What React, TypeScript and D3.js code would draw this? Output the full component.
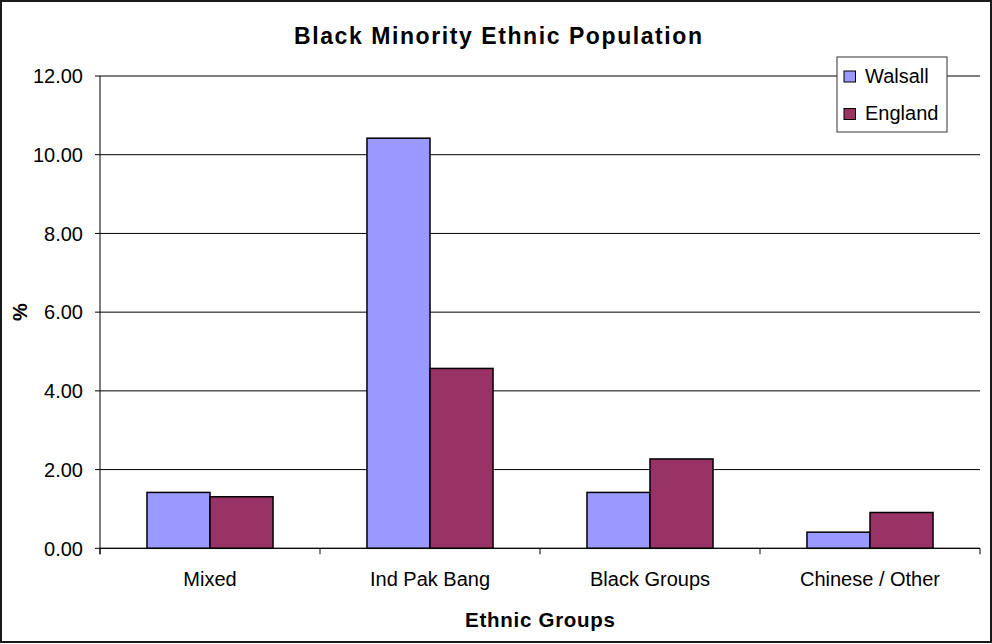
import React from "react";
import * as d3 from "d3";

const categories = ["Mixed", "Ind Pak Bang", "Black Groups", "Chinese / Other"];
const seriesNames = ["Walsall", "England"];
const walsall = [1.42, 10.42, 1.42, 0.41];
const england = [1.31, 4.57, 2.27, 0.91];
const yTicks = [0, 2, 4, 6, 8, 10, 12];
const colors = ["#9999FF", "#993366"];

const W = 992;
const H = 644;
const plot = { left: 100, right: 980, top: 76, bottom: 548.3 };
const FONT = "Arial, 'Liberation Sans', Helvetica, sans-serif";

export default function App() {
  const x0 = d3.scaleBand<string>().domain(categories).range([plot.left, plot.right]).padding(0);
  const step = x0.step();
  const groupW = step * 0.573;
  const x1 = d3.scaleBand<string>().domain(seriesNames).range([0, groupW]).padding(0);
  const y = d3.scaleLinear().domain([0, 12]).range([plot.bottom, plot.top]);
  const series = [walsall, england];

  const boundaries = d3.range(categories.length + 1).map((i) => plot.left + i * step);

  return (
    <svg width={W} height={H} style={{ position: "absolute", left: 0, top: 0, background: "#fff" }} fontFamily={FONT}>
      <rect x={0} y={0} width={W} height={H} fill="#fff" />
      <rect x={1} y={1} width={990} height={641} fill="#fff" stroke="#1a1a1a" strokeWidth={2} />

      {/* title */}
      <text x={498} y={43.5} textAnchor="middle" fontSize={23} fontWeight="bold" textLength={408} lengthAdjust="spacing">
        Black Minority Ethnic Population
      </text>

      {/* gridlines */}
      {yTicks.map((t) => (
        <line key={"g" + t} x1={plot.left} x2={plot.right} y1={y(t)} y2={y(t)} stroke="#000" strokeWidth={1} />
      ))}

      {/* y ticks and labels */}
      {yTicks.map((t) => (
        <g key={"t" + t}>
          <line x1={plot.left - 5} x2={plot.left} y1={y(t)} y2={y(t)} stroke="#000" />
          <text x={83} y={y(t) + 7.2} textAnchor="end" fontSize={20} fill="#000">
            {d3.format(".2f")(t)}
          </text>
        </g>
      ))}

      {/* bars */}
      {categories.map((c, ci) => {
        const gx = (x0(c) as number) + (step - groupW) / 2;
        return series.map((s, si) => (
          <rect
            key={c + si}
            x={gx + (x1(seriesNames[si]) as number)}
            y={y(s[ci])}
            width={x1.bandwidth()}
            height={y(0) - y(s[ci])}
            fill={colors[si]}
            stroke="#000"
            strokeWidth={1.5}
          />
        ));
      })}

      {/* axes */}
      <line x1={plot.left} x2={plot.left} y1={plot.top} y2={plot.bottom + 6} stroke="#000" />
      <line x1={plot.left} x2={plot.right} y1={plot.bottom} y2={plot.bottom} stroke="#000" />
      {boundaries.map((b, i) => (
        <line key={"xb" + i} x1={b} x2={b} y1={plot.bottom} y2={plot.bottom + 6} stroke="#000" />
      ))}

      {/* category labels */}
      {categories.map((c) => (
        <text key={"l" + c} x={(x0(c) as number) + step / 2} y={585.7} textAnchor="middle" fontSize={20} fill="#000">
          {c}
        </text>
      ))}

      {/* axis titles */}
      <text x={540} y={627.3} textAnchor="middle" fontSize={20.5} fontWeight="bold" textLength={150} lengthAdjust="spacing">
        Ethnic Groups
      </text>
      <text
        transform={`translate(27, ${(plot.top + plot.bottom) / 2}) rotate(-90)`}
        textAnchor="middle"
        fontSize={20}
        fontWeight="bold"
      >
        %
      </text>

      {/* legend */}
      <rect x={837} y={57} width={110} height={75} fill="#fff" stroke="#333" strokeWidth={1} />
      {seriesNames.map((n, i) => (
        <g key={"lg" + n}>
          <rect x={844} y={71 + i * 37.5} width={11.5} height={11} fill={colors[i]} stroke="#000" strokeWidth={1} />
          <text x={865} y={83.3 + i * 37} fontSize={20} fill="#000">
            {n}
          </text>
        </g>
      ))}
    </svg>
  );
}
